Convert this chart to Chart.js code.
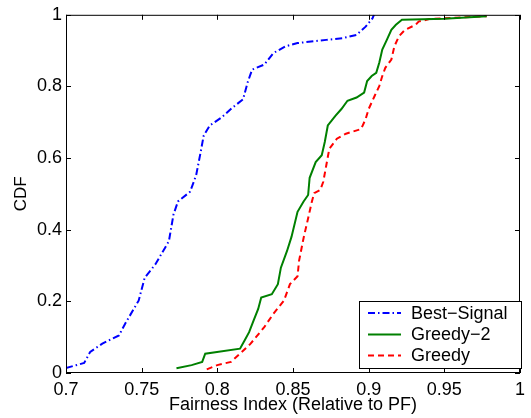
<!DOCTYPE html>
<html lang="en">
<head>
    <meta charset="UTF-8">
    <script src="https://cdn.jsdelivr.net/npm/chart.js@4.4.6/dist/chart.umd.min.js"></script>
    <title>CDF</title>
    <style>
        body { margin: 0; background: #fff; }
        #wrap { width: 531px; height: 418px; }
    </style>
</head>
<body>
    <div id="wrap"><canvas id="cdf"></canvas></div>
    <script>
        // values
        const seriesNames = ["Best\u2212Signal", "Greedy\u22122", "Greedy"]
        const xTicks = [0.7, 0.75, 0.8, 0.85, 0.9, 0.95, 1]
        const yTicks = [0, 0.2, 0.4, 0.6, 0.8, 1]

        const bestX = [0.700, 0.712, 0.716, 0.724, 0.735, 0.739, 0.748, 0.752, 0.759, 0.768, 0.771, 0.774, 0.782, 0.786, 0.789, 0.791, 0.795, 0.803, 0.810, 0.817, 0.820, 0.823, 0.831, 0.837, 0.845, 0.853, 0.872, 0.883, 0.892, 0.898, 0.9025, 0.9035]
        const bestY = [0.014, 0.028, 0.059, 0.082, 0.105, 0.137, 0.202, 0.266, 0.303, 0.368, 0.442, 0.479, 0.506, 0.552, 0.617, 0.663, 0.691, 0.714, 0.741, 0.764, 0.811, 0.847, 0.861, 0.893, 0.912, 0.921, 0.930, 0.935, 0.944, 0.967, 0.990, 1.0]

        const greedy2X = [0.773, 0.783, 0.790, 0.792, 0.815, 0.818, 0.821, 0.824, 0.827, 0.829, 0.836, 0.840, 0.842, 0.846, 0.849, 0.853, 0.857, 0.860, 0.861, 0.865, 0.869, 0.871, 0.873, 0.878, 0.882, 0.886, 0.892, 0.897, 0.899, 0.902, 0.905, 0.907, 0.909, 0.912, 0.915, 0.918, 0.922, 0.950, 0.978]
        const greedy2Y = [0.013, 0.022, 0.031, 0.054, 0.068, 0.091, 0.114, 0.147, 0.179, 0.211, 0.220, 0.248, 0.294, 0.340, 0.380, 0.450, 0.479, 0.497, 0.545, 0.589, 0.608, 0.645, 0.691, 0.718, 0.737, 0.760, 0.769, 0.783, 0.815, 0.829, 0.838, 0.866, 0.903, 0.930, 0.958, 0.972, 0.986, 0.989, 0.996]

        const greedyX = [0.793, 0.800, 0.809, 0.815, 0.822, 0.831, 0.837, 0.844, 0.848, 0.853, 0.854, 0.857, 0.860, 0.8625, 0.864, 0.868, 0.870, 0.872, 0.874, 0.879, 0.885, 0.895, 0.898, 0.900, 0.904, 0.907, 0.909, 0.911, 0.915, 0.917, 0.920, 0.924, 0.931, 0.933, 0.940, 0.978]
        const greedyY = [0.010, 0.022, 0.031, 0.054, 0.082, 0.128, 0.165, 0.202, 0.248, 0.270, 0.313, 0.377, 0.432, 0.479, 0.502, 0.511, 0.534, 0.580, 0.626, 0.654, 0.668, 0.681, 0.709, 0.737, 0.774, 0.801, 0.829, 0.852, 0.875, 0.912, 0.940, 0.958, 0.972, 0.981, 0.988, 0.996]

        const colors = ["#0000ff", "#008000", "#ff0000"]
        const dashes = [[7, 3, 1.5, 3], [], [6, 4]]
        const FONT = "'Liberation Sans', Arial, sans-serif"

        const pts = (xs, ys) => xs.map((x, i) => ({ x: x, y: ys[i] }))

        const data = {
            datasets: [
                { label: seriesNames[0], data: pts(bestX, bestY) },
                { label: seriesNames[1], data: pts(greedy2X, greedy2Y) },
                { label: seriesNames[2], data: pts(greedyX, greedyY) }
            ].map((d, i) => Object.assign(d, {
                showLine: true,
                borderColor: colors[i],
                backgroundColor: colors[i],
                borderWidth: 2,
                borderDash: dashes[i],
                pointRadius: 0,
                tension: 0
            }))
        }

        // frame, inward ticks on all four sides, and the legend box
        const framePlugin = {
            id: 'frame',
            afterDraw(chart) {
                const ctx = chart.ctx
                const a = chart.chartArea
                const xs = chart.scales.x, ys = chart.scales.y
                ctx.save()
                ctx.strokeStyle = '#000'
                ctx.lineWidth = 1
                ctx.setLineDash([])
                ctx.strokeRect(a.left + 0.5, a.top + 0.5, a.right - a.left - 1, a.bottom - a.top - 1)
                ctx.beginPath()
                xTicks.forEach(v => {
                    const px = Math.round(xs.getPixelForValue(v)) + 0.5
                    ctx.moveTo(px, a.bottom); ctx.lineTo(px, a.bottom - 5)
                    ctx.moveTo(px, a.top); ctx.lineTo(px, a.top + 5)
                })
                yTicks.forEach(v => {
                    const py = Math.round(ys.getPixelForValue(v)) + 0.5
                    ctx.moveTo(a.left, py); ctx.lineTo(a.left + 5, py)
                    ctx.moveTo(a.right, py); ctx.lineTo(a.right - 5, py)
                })
                ctx.stroke()

                // legend
                const bx = 359, by = 301, bw = 162, bh = 67
                ctx.fillStyle = '#fff'
                ctx.fillRect(bx, by, bw, bh)
                ctx.strokeRect(bx + 0.5, by + 0.5, bw, bh)
                ctx.font = '18px ' + FONT
                ctx.textBaseline = 'middle'
                ctx.textAlign = 'left'
                const rows = [313, 334.5, 355.5]
                chart.data.datasets.forEach((d, i) => {
                    ctx.strokeStyle = d.borderColor
                    ctx.lineWidth = 2
                    ctx.setLineDash(d.borderDash)
                    ctx.beginPath()
                    ctx.moveTo(368, rows[i]); ctx.lineTo(401, rows[i])
                    ctx.stroke()
                    ctx.fillStyle = '#000'
                    ctx.fillText(d.label, 411, rows[i] + 1)
                })
                ctx.restore()
            }
        }

        new Chart(document.getElementById('cdf'), {
            type: 'scatter',
            data: data,
            plugins: [framePlugin],
            options: {
                responsive: true,
                maintainAspectRatio: false,
                animation: false,
                layout: { padding: { top: 11, right: 5, left: 0, bottom: 0 } },
                scales: {
                    x: {
                        type: 'linear',
                        min: 0.7, max: 1,
                        afterBuildTicks: s => { s.ticks = xTicks.map(v => ({ value: v })) },
                        afterFit: s => { s.height = 45 },
                        grid: { display: false, drawTicks: false },
                        border: { display: false },
                        ticks: {
                            color: '#000', padding: 6,
                            font: { family: FONT, size: 18 },
                            callback: v => String(v)
                        },
                        title: {
                            display: true, text: 'Fairness Index (Relative to PF)',
                            color: '#000', padding: { top: 0, bottom: 2 },
                            font: { family: FONT, size: 18 }
                        }
                    },
                    y: {
                        min: 0, max: 1,
                        afterBuildTicks: s => { s.ticks = yTicks.map(v => ({ value: v })) },
                        afterFit: s => { s.width = 66 },
                        grid: { display: false, drawTicks: false },
                        border: { display: false },
                        ticks: {
                            color: '#000', padding: 4,
                            font: { family: FONT, size: 18 },
                            callback: v => String(v)
                        },
                        title: {
                            display: true, text: 'CDF',
                            color: '#000', padding: { top: 11, bottom: 0 },
                            font: { family: FONT, size: 17 }
                        }
                    }
                },
                plugins: {
                    legend: { display: false },
                    tooltip: { enabled: false }
                }
            }
        })
    </script>
</body>
</html>
